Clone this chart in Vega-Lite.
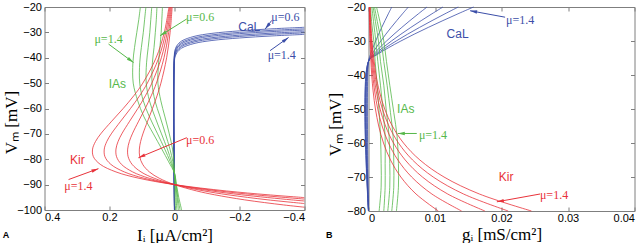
{
"$schema":"https://vega.github.io/schema/vega-lite/v6.json",
"padding":{"left":1.5,"top":0,"right":0,"bottom":0},
"background":"white",
"spacing":64,
"bounds":"flush",
"config":{
 "view":{"stroke":"#7f7f7f","strokeWidth":1},
 "axis":{"grid":false,"domain":false,"tickColor":"#7f7f7f","tickSize":-4,"labelFont":"Liberation Sans","labelFontSize":11,"labelColor":"#000","labelPadding":7,"titleFont":"Liberation Serif","titleFontSize":17,"titleFontWeight":"normal","titleColor":"#000"}
},
"datasets":{
"A":[
{"f":"CaL","c":"c1","I":0,"V":-100},{"f":"CaL","c":"c1","I":0,"V":-38.1},{"f":"CaL","c":"c1","I":-0.003,"V":-36.4},{"f":"CaL","c":"c1","I":-0.008,"V":-35.1},{"f":"CaL","c":"c1","I":-0.022,"V":-33.4},{"f":"CaL","c":"c1","I":-0.06,"V":-31.6},{"f":"CaL","c":"c1","I":-0.115,"V":-30.4},{"f":"CaL","c":"c1","I":-0.2,"V":-29.4},{"f":"CaL","c":"c1","I":-0.3,"V":-28.6},{"f":"CaL","c":"c1","I":-0.4,"V":-28.0},
{"f":"CaL","c":"c2","I":0,"V":-100},{"f":"CaL","c":"c2","I":0,"V":-38.7},{"f":"CaL","c":"c2","I":-0.003,"V":-37.0},{"f":"CaL","c":"c2","I":-0.008,"V":-35.7},{"f":"CaL","c":"c2","I":-0.022,"V":-34.0},{"f":"CaL","c":"c2","I":-0.06,"V":-32.2},{"f":"CaL","c":"c2","I":-0.115,"V":-31.0},{"f":"CaL","c":"c2","I":-0.2,"V":-30.0},{"f":"CaL","c":"c2","I":-0.3,"V":-29.2},{"f":"CaL","c":"c2","I":-0.4,"V":-28.6},
{"f":"CaL","c":"c3","I":0,"V":-100},{"f":"CaL","c":"c3","I":0,"V":-39.2},{"f":"CaL","c":"c3","I":-0.003,"V":-37.5},{"f":"CaL","c":"c3","I":-0.008,"V":-36.2},{"f":"CaL","c":"c3","I":-0.022,"V":-34.5},{"f":"CaL","c":"c3","I":-0.06,"V":-32.7},{"f":"CaL","c":"c3","I":-0.115,"V":-31.5},{"f":"CaL","c":"c3","I":-0.2,"V":-30.5},{"f":"CaL","c":"c3","I":-0.3,"V":-29.7},{"f":"CaL","c":"c3","I":-0.4,"V":-29.1},
{"f":"CaL","c":"c4","I":0,"V":-100},{"f":"CaL","c":"c4","I":0,"V":-39.8},{"f":"CaL","c":"c4","I":-0.003,"V":-38.1},{"f":"CaL","c":"c4","I":-0.008,"V":-36.8},{"f":"CaL","c":"c4","I":-0.022,"V":-35.1},{"f":"CaL","c":"c4","I":-0.06,"V":-33.3},{"f":"CaL","c":"c4","I":-0.115,"V":-32.1},{"f":"CaL","c":"c4","I":-0.2,"V":-31.1},{"f":"CaL","c":"c4","I":-0.3,"V":-30.3},{"f":"CaL","c":"c4","I":-0.4,"V":-29.7},
{"f":"CaL","c":"c5","I":0,"V":-100},{"f":"CaL","c":"c5","I":0,"V":-40.3},{"f":"CaL","c":"c5","I":-0.003,"V":-38.6},{"f":"CaL","c":"c5","I":-0.008,"V":-37.3},{"f":"CaL","c":"c5","I":-0.022,"V":-35.6},{"f":"CaL","c":"c5","I":-0.06,"V":-33.8},{"f":"CaL","c":"c5","I":-0.115,"V":-32.6},{"f":"CaL","c":"c5","I":-0.2,"V":-31.6},{"f":"CaL","c":"c5","I":-0.3,"V":-30.8},{"f":"CaL","c":"c5","I":-0.4,"V":-30.2},
{"f":"CaL","c":"c6","I":0,"V":-100},{"f":"CaL","c":"c6","I":0,"V":-40.9},{"f":"CaL","c":"c6","I":-0.003,"V":-39.2},{"f":"CaL","c":"c6","I":-0.008,"V":-37.9},{"f":"CaL","c":"c6","I":-0.022,"V":-36.2},{"f":"CaL","c":"c6","I":-0.06,"V":-34.4},{"f":"CaL","c":"c6","I":-0.115,"V":-33.2},{"f":"CaL","c":"c6","I":-0.2,"V":-32.2},{"f":"CaL","c":"c6","I":-0.3,"V":-31.4},{"f":"CaL","c":"c6","I":-0.4,"V":-30.8},
{"f":"IAs","c":"a1","V":-20,"I":0.037},{"f":"IAs","c":"a1","V":-25,"I":0.039},{"f":"IAs","c":"a1","V":-30,"I":0.041},{"f":"IAs","c":"a1","V":-36,"I":0.045},{"f":"IAs","c":"a1","V":-42,"I":0.049},{"f":"IAs","c":"a1","V":-50,"I":0.051},{"f":"IAs","c":"a1","V":-57,"I":0.042},{"f":"IAs","c":"a1","V":-63,"I":0.030},{"f":"IAs","c":"a1","V":-70,"I":0.016},{"f":"IAs","c":"a1","V":-76,"I":0.006},{"f":"IAs","c":"a1","V":-81,"I":0.002},{"f":"IAs","c":"a1","V":-85.5,"I":0},{"f":"IAs","c":"a1","V":-90,"I":-0.001},{"f":"IAs","c":"a1","V":-95,"I":-0.002},{"f":"IAs","c":"a1","V":-100,"I":-0.003},
{"f":"IAs","c":"a2","V":-20,"I":0.054},{"f":"IAs","c":"a2","V":-25,"I":0.056},{"f":"IAs","c":"a2","V":-30,"I":0.059},{"f":"IAs","c":"a2","V":-36,"I":0.063},{"f":"IAs","c":"a2","V":-42,"I":0.068},{"f":"IAs","c":"a2","V":-50,"I":0.069},{"f":"IAs","c":"a2","V":-57,"I":0.060},{"f":"IAs","c":"a2","V":-63,"I":0.045},{"f":"IAs","c":"a2","V":-70,"I":0.028},{"f":"IAs","c":"a2","V":-76,"I":0.014},{"f":"IAs","c":"a2","V":-81,"I":0.005},{"f":"IAs","c":"a2","V":-85.5,"I":0},{"f":"IAs","c":"a2","V":-90,"I":-0.002},{"f":"IAs","c":"a2","V":-95,"I":-0.005},{"f":"IAs","c":"a2","V":-100,"I":-0.007},
{"f":"IAs","c":"a3","V":-20,"I":0.070},{"f":"IAs","c":"a3","V":-25,"I":0.073},{"f":"IAs","c":"a3","V":-30,"I":0.076},{"f":"IAs","c":"a3","V":-36,"I":0.081},{"f":"IAs","c":"a3","V":-42,"I":0.086},{"f":"IAs","c":"a3","V":-50,"I":0.087},{"f":"IAs","c":"a3","V":-57,"I":0.077},{"f":"IAs","c":"a3","V":-63,"I":0.061},{"f":"IAs","c":"a3","V":-70,"I":0.040},{"f":"IAs","c":"a3","V":-76,"I":0.022},{"f":"IAs","c":"a3","V":-81,"I":0.009},{"f":"IAs","c":"a3","V":-85.5,"I":0},{"f":"IAs","c":"a3","V":-90,"I":-0.004},{"f":"IAs","c":"a3","V":-95,"I":-0.008},{"f":"IAs","c":"a3","V":-100,"I":-0.012},
{"f":"IAs","c":"a4","V":-20,"I":0.088},{"f":"IAs","c":"a4","V":-25,"I":0.092},{"f":"IAs","c":"a4","V":-30,"I":0.096},{"f":"IAs","c":"a4","V":-36,"I":0.102},{"f":"IAs","c":"a4","V":-42,"I":0.107},{"f":"IAs","c":"a4","V":-50,"I":0.107},{"f":"IAs","c":"a4","V":-57,"I":0.096},{"f":"IAs","c":"a4","V":-63,"I":0.078},{"f":"IAs","c":"a4","V":-70,"I":0.052},{"f":"IAs","c":"a4","V":-76,"I":0.030},{"f":"IAs","c":"a4","V":-81,"I":0.013},{"f":"IAs","c":"a4","V":-85.5,"I":0},{"f":"IAs","c":"a4","V":-90,"I":-0.005},{"f":"IAs","c":"a4","V":-95,"I":-0.010},{"f":"IAs","c":"a4","V":-100,"I":-0.017},
{"f":"IAs","c":"a5","V":-20,"I":0.105},{"f":"IAs","c":"a5","V":-25,"I":0.110},{"f":"IAs","c":"a5","V":-30,"I":0.116},{"f":"IAs","c":"a5","V":-36,"I":0.123},{"f":"IAs","c":"a5","V":-42,"I":0.128},{"f":"IAs","c":"a5","V":-50,"I":0.127},{"f":"IAs","c":"a5","V":-57,"I":0.113},{"f":"IAs","c":"a5","V":-63,"I":0.095},{"f":"IAs","c":"a5","V":-70,"I":0.065},{"f":"IAs","c":"a5","V":-76,"I":0.039},{"f":"IAs","c":"a5","V":-81,"I":0.018},{"f":"IAs","c":"a5","V":-85.5,"I":0},{"f":"IAs","c":"a5","V":-90,"I":-0.006},{"f":"IAs","c":"a5","V":-95,"I":-0.013},{"f":"IAs","c":"a5","V":-100,"I":-0.022},
{"f":"Kir","c":"k1","V":-20,"I":0.0073},{"f":"Kir","c":"k1","V":-30,"I":0.0135},{"f":"Kir","c":"k1","V":-40,"I":0.0242},{"f":"Kir","c":"k1","V":-50,"I":0.0418},{"f":"Kir","c":"k1","V":-55,"I":0.0537},{"f":"Kir","c":"k1","V":-60,"I":0.0677},{"f":"Kir","c":"k1","V":-65,"I":0.0828},{"f":"Kir","c":"k1","V":-70,"I":0.0973},{"f":"Kir","c":"k1","V":-73,"I":0.1042},{"f":"Kir","c":"k1","V":-76,"I":0.1081},{"f":"Kir","c":"k1","V":-79,"I":0.1070},{"f":"Kir","c":"k1","V":-82,"I":0.0980},{"f":"Kir","c":"k1","V":-85,"I":0.0772},{"f":"Kir","c":"k1","V":-87.5,"I":0.0467},{"f":"Kir","c":"k1","V":-90,"I":0},{"f":"Kir","c":"k1","V":-92.5,"I":-0.0686},{"f":"Kir","c":"k1","V":-94,"I":-0.1233},{"f":"Kir","c":"k1","V":-96,"I":-0.2157},{"f":"Kir","c":"k1","V":-98,"I":-0.3354},{"f":"Kir","c":"k1","V":-98.9,"I":-0.4},
{"f":"Kir","c":"k2","V":-20,"I":0.0097},{"f":"Kir","c":"k2","V":-30,"I":0.0180},{"f":"Kir","c":"k2","V":-40,"I":0.0323},{"f":"Kir","c":"k2","V":-50,"I":0.0557},{"f":"Kir","c":"k2","V":-55,"I":0.0717},{"f":"Kir","c":"k2","V":-60,"I":0.0902},{"f":"Kir","c":"k2","V":-65,"I":0.1104},{"f":"Kir","c":"k2","V":-70,"I":0.1298},{"f":"Kir","c":"k2","V":-73,"I":0.1389},{"f":"Kir","c":"k2","V":-76,"I":0.1441},{"f":"Kir","c":"k2","V":-79,"I":0.1426},{"f":"Kir","c":"k2","V":-82,"I":0.1306},{"f":"Kir","c":"k2","V":-85,"I":0.1029},{"f":"Kir","c":"k2","V":-87.5,"I":0.0623},{"f":"Kir","c":"k2","V":-90,"I":0},{"f":"Kir","c":"k2","V":-92.5,"I":-0.0915},{"f":"Kir","c":"k2","V":-94,"I":-0.1644},{"f":"Kir","c":"k2","V":-96,"I":-0.2876},{"f":"Kir","c":"k2","V":-97.46,"I":-0.4},
{"f":"Kir","c":"k3","V":-20,"I":0.0121},{"f":"Kir","c":"k3","V":-30,"I":0.0224},{"f":"Kir","c":"k3","V":-40,"I":0.0404},{"f":"Kir","c":"k3","V":-50,"I":0.0696},{"f":"Kir","c":"k3","V":-55,"I":0.0896},{"f":"Kir","c":"k3","V":-60,"I":0.1128},{"f":"Kir","c":"k3","V":-65,"I":0.1380},{"f":"Kir","c":"k3","V":-70,"I":0.1622},{"f":"Kir","c":"k3","V":-73,"I":0.1736},{"f":"Kir","c":"k3","V":-76,"I":0.1801},{"f":"Kir","c":"k3","V":-79,"I":0.1783},{"f":"Kir","c":"k3","V":-82,"I":0.1633},{"f":"Kir","c":"k3","V":-85,"I":0.1286},{"f":"Kir","c":"k3","V":-87.5,"I":0.0779},{"f":"Kir","c":"k3","V":-90,"I":0},{"f":"Kir","c":"k3","V":-92.5,"I":-0.1144},{"f":"Kir","c":"k3","V":-94,"I":-0.2055},{"f":"Kir","c":"k3","V":-96,"I":-0.3595},{"f":"Kir","c":"k3","V":-96.45,"I":-0.4},
{"f":"Kir","c":"k4","V":-20,"I":0.0146},{"f":"Kir","c":"k4","V":-30,"I":0.0269},{"f":"Kir","c":"k4","V":-40,"I":0.0484},{"f":"Kir","c":"k4","V":-50,"I":0.0836},{"f":"Kir","c":"k4","V":-55,"I":0.1075},{"f":"Kir","c":"k4","V":-60,"I":0.1354},{"f":"Kir","c":"k4","V":-65,"I":0.1656},{"f":"Kir","c":"k4","V":-70,"I":0.1946},{"f":"Kir","c":"k4","V":-73,"I":0.2083},{"f":"Kir","c":"k4","V":-76,"I":0.2161},{"f":"Kir","c":"k4","V":-79,"I":0.2140},{"f":"Kir","c":"k4","V":-82,"I":0.1960},{"f":"Kir","c":"k4","V":-85,"I":0.1543},{"f":"Kir","c":"k4","V":-87.5,"I":0.0935},{"f":"Kir","c":"k4","V":-90,"I":0},{"f":"Kir","c":"k4","V":-92.5,"I":-0.1373},{"f":"Kir","c":"k4","V":-94,"I":-0.2466},{"f":"Kir","c":"k4","V":-95.7,"I":-0.4},
{"f":"Kir","c":"k5","V":-20,"I":0.0170},{"f":"Kir","c":"k5","V":-30,"I":0.0314},{"f":"Kir","c":"k5","V":-40,"I":0.0565},{"f":"Kir","c":"k5","V":-50,"I":0.0975},{"f":"Kir","c":"k5","V":-55,"I":0.1254},{"f":"Kir","c":"k5","V":-60,"I":0.1579},{"f":"Kir","c":"k5","V":-65,"I":0.1932},{"f":"Kir","c":"k5","V":-70,"I":0.2271},{"f":"Kir","c":"k5","V":-73,"I":0.2430},{"f":"Kir","c":"k5","V":-76,"I":0.2521},{"f":"Kir","c":"k5","V":-79,"I":0.2496},{"f":"Kir","c":"k5","V":-82,"I":0.2286},{"f":"Kir","c":"k5","V":-85,"I":0.1800},{"f":"Kir","c":"k5","V":-87.5,"I":0.1091},{"f":"Kir","c":"k5","V":-90,"I":0},{"f":"Kir","c":"k5","V":-92.5,"I":-0.1602},{"f":"Kir","c":"k5","V":-94,"I":-0.2877},{"f":"Kir","c":"k5","V":-95.11,"I":-0.4}
],
"B":[
{"f":"CaL","c":"c1","g":0,"V":-80},{"f":"CaL","c":"c1","g":0,"V":-36},{"f":"CaL","c":"c1","g":0.00029,"V":-34},{"f":"CaL","c":"c1","g":0.00066,"V":-32},{"f":"CaL","c":"c1","g":0.00108,"V":-30},{"f":"CaL","c":"c1","g":0.00152,"V":-28},{"f":"CaL","c":"c1","g":0.00199,"V":-26},{"f":"CaL","c":"c1","g":0.00248,"V":-24},{"f":"CaL","c":"c1","g":0.00298,"V":-22},{"f":"CaL","c":"c1","g":0.0035,"V":-20},
{"f":"CaL","c":"c2","g":0,"V":-80},{"f":"CaL","c":"c2","g":0,"V":-36},{"f":"CaL","c":"c2","g":0.0005,"V":-34},{"f":"CaL","c":"c2","g":0.00113,"V":-32},{"f":"CaL","c":"c2","g":0.00185,"V":-30},{"f":"CaL","c":"c2","g":0.00261,"V":-28},{"f":"CaL","c":"c2","g":0.00341,"V":-26},{"f":"CaL","c":"c2","g":0.00425,"V":-24},{"f":"CaL","c":"c2","g":0.00511,"V":-22},{"f":"CaL","c":"c2","g":0.006,"V":-20},
{"f":"CaL","c":"c3","g":0,"V":-80},{"f":"CaL","c":"c3","g":0,"V":-36},{"f":"CaL","c":"c3","g":0.00073,"V":-34},{"f":"CaL","c":"c3","g":0.00166,"V":-32},{"f":"CaL","c":"c3","g":0.00271,"V":-30},{"f":"CaL","c":"c3","g":0.00383,"V":-28},{"f":"CaL","c":"c3","g":0.00501,"V":-26},{"f":"CaL","c":"c3","g":0.00623,"V":-24},{"f":"CaL","c":"c3","g":0.0075,"V":-22},{"f":"CaL","c":"c3","g":0.0088,"V":-20},
{"f":"CaL","c":"c4","g":0,"V":-80},{"f":"CaL","c":"c4","g":0,"V":-36},{"f":"CaL","c":"c4","g":0.00092,"V":-34},{"f":"CaL","c":"c4","g":0.00212,"V":-32},{"f":"CaL","c":"c4","g":0.00345,"V":-30},{"f":"CaL","c":"c4","g":0.00487,"V":-28},{"f":"CaL","c":"c4","g":0.00637,"V":-26},{"f":"CaL","c":"c4","g":0.00793,"V":-24},{"f":"CaL","c":"c4","g":0.00954,"V":-22},{"f":"CaL","c":"c4","g":0.0112,"V":-20},
{"f":"CaL","c":"c5","g":0,"V":-80},{"f":"CaL","c":"c5","g":0,"V":-36},{"f":"CaL","c":"c5","g":0.00111,"V":-34},{"f":"CaL","c":"c5","g":0.00255,"V":-32},{"f":"CaL","c":"c5","g":0.00416,"V":-30},{"f":"CaL","c":"c5","g":0.00587,"V":-28},{"f":"CaL","c":"c5","g":0.00768,"V":-26},{"f":"CaL","c":"c5","g":0.00956,"V":-24},{"f":"CaL","c":"c5","g":0.0115,"V":-22},{"f":"CaL","c":"c5","g":0.0135,"V":-20},
{"f":"CaL","c":"c6","g":0,"V":-80},{"f":"CaL","c":"c6","g":0,"V":-36},{"f":"CaL","c":"c6","g":0.0013,"V":-34},{"f":"CaL","c":"c6","g":0.00299,"V":-32},{"f":"CaL","c":"c6","g":0.00487,"V":-30},{"f":"CaL","c":"c6","g":0.00687,"V":-28},{"f":"CaL","c":"c6","g":0.00899,"V":-26},{"f":"CaL","c":"c6","g":0.01119,"V":-24},{"f":"CaL","c":"c6","g":0.01346,"V":-22},{"f":"CaL","c":"c6","g":0.0158,"V":-20},
{"f":"IAs","c":"a1","V":-20,"g":0.0003},{"f":"IAs","c":"a1","V":-25,"g":0.0005},{"f":"IAs","c":"a1","V":-30,"g":0.0008},{"f":"IAs","c":"a1","V":-36,"g":0.001},{"f":"IAs","c":"a1","V":-43,"g":0.0013},{"f":"IAs","c":"a1","V":-51,"g":0.0016},{"f":"IAs","c":"a1","V":-58,"g":0.0018},{"f":"IAs","c":"a1","V":-66,"g":0.0019},{"f":"IAs","c":"a1","V":-73,"g":0.0019},{"f":"IAs","c":"a1","V":-80,"g":0.0016},
{"f":"IAs","c":"a2","V":-20,"g":0.0005},{"f":"IAs","c":"a2","V":-25,"g":0.0008},{"f":"IAs","c":"a2","V":-30,"g":0.0011},{"f":"IAs","c":"a2","V":-36,"g":0.0014},{"f":"IAs","c":"a2","V":-43,"g":0.0018},{"f":"IAs","c":"a2","V":-51,"g":0.0022},{"f":"IAs","c":"a2","V":-58,"g":0.0025},{"f":"IAs","c":"a2","V":-66,"g":0.0025},{"f":"IAs","c":"a2","V":-73,"g":0.0025},{"f":"IAs","c":"a2","V":-80,"g":0.0023},
{"f":"IAs","c":"a3","V":-20,"g":0.0007},{"f":"IAs","c":"a3","V":-25,"g":0.0011},{"f":"IAs","c":"a3","V":-30,"g":0.0015},{"f":"IAs","c":"a3","V":-36,"g":0.0018},{"f":"IAs","c":"a3","V":-43,"g":0.0023},{"f":"IAs","c":"a3","V":-51,"g":0.0027},{"f":"IAs","c":"a3","V":-58,"g":0.0031},{"f":"IAs","c":"a3","V":-66,"g":0.0032},{"f":"IAs","c":"a3","V":-73,"g":0.0032},{"f":"IAs","c":"a3","V":-80,"g":0.0029},
{"f":"IAs","c":"a4","V":-20,"g":0.0009},{"f":"IAs","c":"a4","V":-25,"g":0.0014},{"f":"IAs","c":"a4","V":-30,"g":0.0019},{"f":"IAs","c":"a4","V":-36,"g":0.0023},{"f":"IAs","c":"a4","V":-43,"g":0.0028},{"f":"IAs","c":"a4","V":-51,"g":0.0033},{"f":"IAs","c":"a4","V":-58,"g":0.0037},{"f":"IAs","c":"a4","V":-66,"g":0.0038},{"f":"IAs","c":"a4","V":-73,"g":0.0038},{"f":"IAs","c":"a4","V":-80,"g":0.0035},
{"f":"IAs","c":"a5","V":-20,"g":0.0012},{"f":"IAs","c":"a5","V":-25,"g":0.0018},{"f":"IAs","c":"a5","V":-30,"g":0.0023},{"f":"IAs","c":"a5","V":-36,"g":0.0027},{"f":"IAs","c":"a5","V":-43,"g":0.0032},{"f":"IAs","c":"a5","V":-51,"g":0.0038},{"f":"IAs","c":"a5","V":-58,"g":0.0043},{"f":"IAs","c":"a5","V":-66,"g":0.0045},{"f":"IAs","c":"a5","V":-73,"g":0.0045},{"f":"IAs","c":"a5","V":-80,"g":0.0042},
{"f":"Kir","c":"k1","V":-20,"g":0.000104},{"f":"Kir","c":"k1","V":-30,"g":0.000224},{"f":"Kir","c":"k1","V":-40,"g":0.000484},{"f":"Kir","c":"k1","V":-45,"g":0.000711},{"f":"Kir","c":"k1","V":-50,"g":0.001045},{"f":"Kir","c":"k1","V":-55,"g":0.001535},{"f":"Kir","c":"k1","V":-60,"g":0.002255},{"f":"Kir","c":"k1","V":-65,"g":0.003312},{"f":"Kir","c":"k1","V":-70,"g":0.004866},{"f":"Kir","c":"k1","V":-75,"g":0.007146},{"f":"Kir","c":"k1","V":-80,"g":0.0105},
{"f":"Kir","c":"k2","V":-20,"g":0.000139},{"f":"Kir","c":"k2","V":-30,"g":0.000299},{"f":"Kir","c":"k2","V":-40,"g":0.000646},{"f":"Kir","c":"k2","V":-45,"g":0.000948},{"f":"Kir","c":"k2","V":-50,"g":0.001393},{"f":"Kir","c":"k2","V":-55,"g":0.002047},{"f":"Kir","c":"k2","V":-60,"g":0.003007},{"f":"Kir","c":"k2","V":-65,"g":0.004416},{"f":"Kir","c":"k2","V":-70,"g":0.006488},{"f":"Kir","c":"k2","V":-75,"g":0.009528},{"f":"Kir","c":"k2","V":-80,"g":0.014},
{"f":"Kir","c":"k3","V":-20,"g":0.000173},{"f":"Kir","c":"k3","V":-30,"g":0.000374},{"f":"Kir","c":"k3","V":-40,"g":0.000807},{"f":"Kir","c":"k3","V":-45,"g":0.001185},{"f":"Kir","c":"k3","V":-50,"g":0.001741},{"f":"Kir","c":"k3","V":-55,"g":0.002559},{"f":"Kir","c":"k3","V":-60,"g":0.003759},{"f":"Kir","c":"k3","V":-65,"g":0.00552},{"f":"Kir","c":"k3","V":-70,"g":0.00811},{"f":"Kir","c":"k3","V":-75,"g":0.01191},{"f":"Kir","c":"k3","V":-80,"g":0.0175},
{"f":"Kir","c":"k4","V":-20,"g":0.000208},{"f":"Kir","c":"k4","V":-30,"g":0.000449},{"f":"Kir","c":"k4","V":-40,"g":0.000968},{"f":"Kir","c":"k4","V":-45,"g":0.001422},{"f":"Kir","c":"k4","V":-50,"g":0.002089},{"f":"Kir","c":"k4","V":-55,"g":0.003071},{"f":"Kir","c":"k4","V":-60,"g":0.004511},{"f":"Kir","c":"k4","V":-65,"g":0.006624},{"f":"Kir","c":"k4","V":-70,"g":0.009732},{"f":"Kir","c":"k4","V":-75,"g":0.014292},{"f":"Kir","c":"k4","V":-80,"g":0.021},
{"f":"Kir","c":"k5","V":-20,"g":0.000243},{"f":"Kir","c":"k5","V":-30,"g":0.000524},{"f":"Kir","c":"k5","V":-40,"g":0.00113},{"f":"Kir","c":"k5","V":-45,"g":0.001659},{"f":"Kir","c":"k5","V":-50,"g":0.002437},{"f":"Kir","c":"k5","V":-55,"g":0.003583},{"f":"Kir","c":"k5","V":-60,"g":0.005263},{"f":"Kir","c":"k5","V":-65,"g":0.007728},{"f":"Kir","c":"k5","V":-70,"g":0.011354},{"f":"Kir","c":"k5","V":-75,"g":0.016674},{"f":"Kir","c":"k5","V":-80,"g":0.0245}
],
"tA":[
{"t":"μ=0.6","f":"IAs","k":"m","x":-0.079,"y":-24.1},
{"t":"μ=1.4","f":"IAs","k":"m","x":0.203,"y":-32.8},
{"t":"IAs","f":"IAs","k":"n","x":0.176,"y":-50.2},
{"t":"CaL","f":"CaL","k":"n","x":-0.23,"y":-28.0},
{"t":"μ=0.6","f":"CaL","k":"m","x":-0.341,"y":-24.1},
{"t":"μ=1.4","f":"CaL","k":"m","x":-0.33,"y":-39.1},
{"t":"μ=0.6","f":"Kir","k":"m","x":-0.079,"y":-72.3},
{"t":"Kir","f":"Kir","k":"n","x":0.299,"y":-80.2},
{"t":"μ=1.4","f":"Kir","k":"m","x":0.296,"y":-90.5}
],
"tB":[
{"t":"μ=1.4","f":"CaL","k":"m","x":0.0228,"y":-23.9},
{"t":"CaL","f":"CaL","k":"n","x":0.0134,"y":-28.0},
{"t":"IAs","f":"IAs","k":"n","x":0.0056,"y":-50.1},
{"t":"μ=1.4","f":"IAs","k":"m","x":0.0097,"y":-57.5},
{"t":"Kir","f":"Kir","k":"n","x":0.0207,"y":-70.1},
{"t":"μ=1.4","f":"Kir","k":"m","x":0.0279,"y":-75.4}
],
"rA":[
{"id":1,"f":"IAs","x":-0.0378,"y":-24.7,"x2":0.0443,"y2":-31.3},
{"id":2,"f":"IAs","x":0.203,"y":-34.6,"x2":0.126,"y2":-41.9},
{"id":3,"f":"CaL","x":-0.299,"y":-25.3,"x2":-0.279,"y2":-28.7},
{"id":4,"f":"CaL","x":-0.294,"y":-37.2,"x2":-0.351,"y2":-32.0},
{"id":5,"f":"Kir","x":-0.0378,"y":-71.5,"x2":0.111,"y2":-79.4},
{"id":6,"f":"Kir","x":0.326,"y":-88.0,"x2":0.234,"y2":-83.7}
],
"rB":[
{"id":7,"f":"CaL","x":0.02054,"y":-23.0,"x2":0.01528,"y2":-21.1},
{"id":8,"f":"IAs","x":0.00726,"y":-57.2,"x2":0.00441,"y2":-57.2},
{"id":9,"f":"Kir","x":0.0258,"y":-75.0,"x2":0.0193,"y2":-77.3}
]
},
"hconcat":[
{
 "width":260,"height":203,
 "title":{"text":"A","orient":"bottom","anchor":"start","frame":"bounds","offset":-12,"fontSize":9,"fontWeight":"bold","font":"Liberation Sans","color":"#000"},
 "resolve":{"axis":{"x":"independent","y":"independent"}},
 "layer":[
  {"data":{"name":"A"},"mark":{"type":"line","interpolate":"catmull-rom","strokeWidth":0.8,"clip":true},
   "encoding":{
    "x":{"field":"I","type":"quantitative","scale":{"domain":[-0.4,0.4],"reverse":true,"nice":false,"zero":false},"axis":{"orient":"bottom","values":[0.4,0.2,0,-0.2,-0.4],"format":"~g","labelPadding":5,"title":"Iᵢ [μA/cm²]","titleY":30,"titleBaseline":"alphabetic"}},
    "y":{"field":"V","type":"quantitative","scale":{"domain":[-100,-20],"nice":false,"zero":false},"axis":{"orient":"left","values":[-100,-90,-80,-70,-60,-50,-40,-30,-20],"title":"Vₘ [mV]","titleX":-27.7,"titleY":115,"titleAngle":270,"titleBaseline":"alphabetic"}},
    "color":{"field":"f","type":"nominal","scale":{"domain":["Kir","IAs","CaL"],"range":["#e8323a","#56b84a","#3b4ea8"]},"legend":null},
    "detail":{"field":"c"},
    "order":{"field":"V","type":"quantitative"}
   }},
  {"data":{"name":"tA"},"transform":[{"filter":"datum.k=='m'"}],"mark":{"type":"text","font":"Liberation Serif","fontSize":12,"align":"center","baseline":"middle"},
   "encoding":{
    "x":{"field":"x","type":"quantitative","scale":{"domain":[-0.4,0.4],"reverse":true,"nice":false,"zero":false},"axis":{"orient":"top","values":[0.4,0.2,0,-0.2,-0.4],"labels":false,"title":null}},
    "y":{"field":"y","type":"quantitative","scale":{"domain":[-100,-20],"nice":false,"zero":false},"axis":{"orient":"right","values":[-100,-90,-80,-70,-60,-50,-40,-30,-20],"labels":false,"title":null}},
    "text":{"field":"t"},
    "color":{"field":"f","type":"nominal","scale":{"domain":["Kir","IAs","CaL"],"range":["#e8323a","#56b84a","#3b4ea8"]},"legend":null}
   }},
  {"data":{"name":"tA"},"transform":[{"filter":"datum.k=='n'"}],"mark":{"type":"text","font":"Liberation Sans","fontSize":12,"align":"center","baseline":"middle"},
   "encoding":{
    "x":{"field":"x","type":"quantitative","scale":{"domain":[-0.4,0.4],"reverse":true,"nice":false,"zero":false},"axis":null},
    "y":{"field":"y","type":"quantitative","scale":{"domain":[-100,-20],"nice":false,"zero":false},"axis":null},
    "text":{"field":"t"},
    "color":{"field":"f","type":"nominal","scale":{"domain":["Kir","IAs","CaL"],"range":["#e8323a","#56b84a","#3b4ea8"]},"legend":null}
   }},
  {"data":{"name":"rA"},"mark":{"type":"rule","strokeWidth":1},
   "encoding":{
    "x":{"field":"x","type":"quantitative","scale":{"domain":[-0.4,0.4],"reverse":true,"nice":false,"zero":false},"axis":null},
    "y":{"field":"y","type":"quantitative","scale":{"domain":[-100,-20],"nice":false,"zero":false},"axis":null},
    "x2":{"field":"x2"},"y2":{"field":"y2"},
    "color":{"field":"f","type":"nominal","scale":{"domain":["Kir","IAs","CaL"],"range":["#e8323a","#56b84a","#3b4ea8"]},"legend":null}
   }},
  {"data":{"name":"rA"},"transform":[{"filter":"datum.id==1"}],"mark":{"type":"point","shape":"M0,0L-0.6,2.4L0.6,2.4Z","angle":238,"size":34,"filled":true,"opacity":1},
   "encoding":{"x":{"field":"x2","type":"quantitative","axis":null},"y":{"field":"y2","type":"quantitative","axis":null},"color":{"field":"f","type":"nominal","legend":null}}},
  {"data":{"name":"rA"},"transform":[{"filter":"datum.id==2"}],"mark":{"type":"point","shape":"M0,0L-0.6,2.4L0.6,2.4Z","angle":126,"size":34,"filled":true,"opacity":1},
   "encoding":{"x":{"field":"x2","type":"quantitative","axis":null},"y":{"field":"y2","type":"quantitative","axis":null},"color":{"field":"f","type":"nominal","legend":null}}},
  {"data":{"name":"rA"},"transform":[{"filter":"datum.id==3"}],"mark":{"type":"point","shape":"M0,0L-0.6,2.4L0.6,2.4Z","angle":218,"size":34,"filled":true,"opacity":1},
   "encoding":{"x":{"field":"x2","type":"quantitative","axis":null},"y":{"field":"y2","type":"quantitative","axis":null},"color":{"field":"f","type":"nominal","legend":null}}},
  {"data":{"name":"rA"},"transform":[{"filter":"datum.id==4"}],"mark":{"type":"point","shape":"M0,0L-0.6,2.4L0.6,2.4Z","angle":54,"size":34,"filled":true,"opacity":1},
   "encoding":{"x":{"field":"x2","type":"quantitative","axis":null},"y":{"field":"y2","type":"quantitative","axis":null},"color":{"field":"f","type":"nominal","legend":null}}},
  {"data":{"name":"rA"},"transform":[{"filter":"datum.id==5"}],"mark":{"type":"point","shape":"M0,0L-0.6,2.4L0.6,2.4Z","angle":247,"size":34,"filled":true,"opacity":1},
   "encoding":{"x":{"field":"x2","type":"quantitative","axis":null},"y":{"field":"y2","type":"quantitative","axis":null},"color":{"field":"f","type":"nominal","legend":null}}},
  {"data":{"name":"rA"},"transform":[{"filter":"datum.id==6"}],"mark":{"type":"point","shape":"M0,0L-0.6,2.4L0.6,2.4Z","angle":70,"size":34,"filled":true,"opacity":1},
   "encoding":{"x":{"field":"x2","type":"quantitative","axis":null},"y":{"field":"y2","type":"quantitative","axis":null},"color":{"field":"f","type":"nominal","legend":null}}}
 ]
},
{
 "width":266,"height":204,
 "title":{"text":"B","orient":"bottom","anchor":"start","frame":"bounds","offset":-12,"fontSize":9,"fontWeight":"bold","font":"Liberation Sans","color":"#000"},
 "resolve":{"axis":{"x":"independent","y":"independent"}},
 "layer":[
  {"data":{"name":"B"},"mark":{"type":"line","interpolate":"catmull-rom","strokeWidth":0.8},
   "encoding":{
    "x":{"field":"g","type":"quantitative","scale":{"domain":[0,0.04],"nice":false},"axis":{"orient":"bottom","values":[0,0.01,0.02,0.03,0.04],"format":"~g","labelPadding":5,"title":"gᵢ [mS/cm²]","titleY":28.5,"titleBaseline":"alphabetic"}},
    "y":{"field":"V","type":"quantitative","scale":{"domain":[-80,-20],"nice":false,"zero":false},"axis":{"orient":"left","values":[-80,-70,-60,-50,-40,-30,-20],"title":"Vₘ [mV]","titleX":-28.4,"titleY":117,"titleAngle":270,"titleBaseline":"alphabetic"}},
    "color":{"field":"f","type":"nominal","scale":{"domain":["Kir","IAs","CaL"],"range":["#e8323a","#56b84a","#3b4ea8"]},"legend":null},
    "detail":{"field":"c"},
    "order":{"field":"V","type":"quantitative"}
   }},
  {"data":{"name":"tB"},"transform":[{"filter":"datum.k=='m'"}],"mark":{"type":"text","font":"Liberation Serif","fontSize":12,"align":"center","baseline":"middle"},
   "encoding":{
    "x":{"field":"x","type":"quantitative","scale":{"domain":[0,0.04],"nice":false},"axis":{"orient":"top","values":[0,0.01,0.02,0.03,0.04],"labels":false,"title":null}},
    "y":{"field":"y","type":"quantitative","scale":{"domain":[-80,-20],"nice":false,"zero":false},"axis":{"orient":"right","values":[-80,-70,-60,-50,-40,-30,-20],"labels":false,"title":null}},
    "text":{"field":"t"},
    "color":{"field":"f","type":"nominal","scale":{"domain":["Kir","IAs","CaL"],"range":["#e8323a","#56b84a","#3b4ea8"]},"legend":null}
   }},
  {"data":{"name":"tB"},"transform":[{"filter":"datum.k=='n'"}],"mark":{"type":"text","font":"Liberation Sans","fontSize":12,"align":"center","baseline":"middle"},
   "encoding":{
    "x":{"field":"x","type":"quantitative","scale":{"domain":[0,0.04],"nice":false},"axis":null},
    "y":{"field":"y","type":"quantitative","scale":{"domain":[-80,-20],"nice":false,"zero":false},"axis":null},
    "text":{"field":"t"},
    "color":{"field":"f","type":"nominal","scale":{"domain":["Kir","IAs","CaL"],"range":["#e8323a","#56b84a","#3b4ea8"]},"legend":null}
   }},
  {"data":{"name":"rB"},"mark":{"type":"rule","strokeWidth":1},
   "encoding":{
    "x":{"field":"x","type":"quantitative","scale":{"domain":[0,0.04],"nice":false},"axis":null},
    "y":{"field":"y","type":"quantitative","scale":{"domain":[-80,-20],"nice":false,"zero":false},"axis":null},
    "x2":{"field":"x2"},"y2":{"field":"y2"},
    "color":{"field":"f","type":"nominal","scale":{"domain":["Kir","IAs","CaL"],"range":["#e8323a","#56b84a","#3b4ea8"]},"legend":null}
   }},
  {"data":{"name":"rB"},"transform":[{"filter":"datum.id==7"}],"mark":{"type":"point","shape":"M0,0L-0.6,2.4L0.6,2.4Z","angle":281,"size":34,"filled":true,"opacity":1},
   "encoding":{"x":{"field":"x2","type":"quantitative","axis":null},"y":{"field":"y2","type":"quantitative","axis":null},"color":{"field":"f","type":"nominal","legend":null}}},
  {"data":{"name":"rB"},"transform":[{"filter":"datum.id==8"}],"mark":{"type":"point","shape":"M0,0L-0.6,2.4L0.6,2.4Z","angle":270,"size":34,"filled":true,"opacity":1},
   "encoding":{"x":{"field":"x2","type":"quantitative","axis":null},"y":{"field":"y2","type":"quantitative","axis":null},"color":{"field":"f","type":"nominal","legend":null}}},
  {"data":{"name":"rB"},"transform":[{"filter":"datum.id==9"}],"mark":{"type":"point","shape":"M0,0L-0.6,2.4L0.6,2.4Z","angle":260,"size":34,"filled":true,"opacity":1},
   "encoding":{"x":{"field":"x2","type":"quantitative","axis":null},"y":{"field":"y2","type":"quantitative","axis":null},"color":{"field":"f","type":"nominal","legend":null}}}
 ]
}
]
}
